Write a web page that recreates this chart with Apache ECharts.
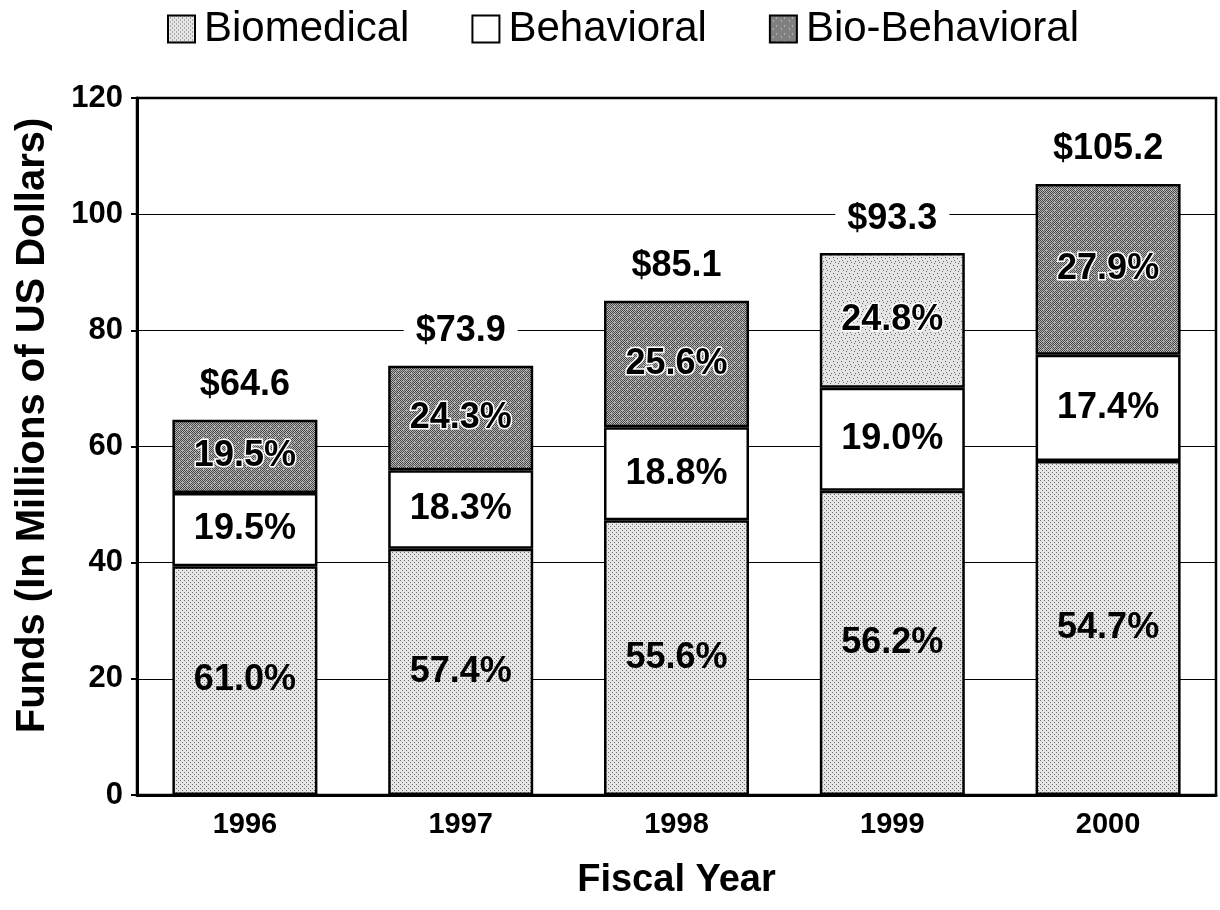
<!DOCTYPE html>
<html>
<head>
<meta charset="utf-8">
<script src="https://cdn.jsdelivr.net/npm/echarts@6/dist/echarts.min.js"></script>
<style>
  html, body { margin: 0; padding: 0; background: #fff; }
  #chart { width: 1220px; height: 910px; }
</style>
</head>
<body>
<div id="chart"></div>
<script>
// data (millions of US dollars)
var years = ['1996', '1997', '1998', '1999', '2000'];
var biomedical = [39.4, 42.4, 47.3, 52.4, 57.5];
var behavioral = [12.6, 13.5, 16.0, 17.7, 18.3];
var bioBehavioral = [12.6, 18.0, 21.8, 23.2, 29.4];
var totals = [64.6, 73.9, 85.1, 93.3, 105.2];
var pctBiomedical = ['61.0%', '57.4%', '55.6%', '56.2%', '54.7%'];
var pctBehavioral = ['19.5%', '18.3%', '18.8%', '19.0%', '17.4%'];
var pctBioBehavioral = ['19.5%', '24.3%', '25.6%', '24.8%', '27.9%'];

var FONT = '"Liberation Sans", Arial, sans-serif';

// stipple textures made on little canvases
function makePattern(size, bg, fg, dots) {
    var c = document.createElement('canvas');
    c.width = size; c.height = size;
    var ctx = c.getContext('2d');
    ctx.fillStyle = bg;
    ctx.fillRect(0, 0, size, size);
    ctx.fillStyle = fg;
    for (var i = 0; i < dots.length; i++) {
        ctx.fillRect(dots[i][0], dots[i][1], 1, 1);
    }
    return c;
}
var dotsLight = [[0, 0], [2, 2]];
var dotsDark = [];
for (var y = 0; y < 8; y++) {
    for (var x = 0; x < 8; x++) {
        if ((x + y) % 2 === 0 && !((x === 3 && y === 5) || (x === 6 && y === 2))) dotsDark.push([x, y]);
    }
}
var dotsSpeck = [[1, 1], [5, 2], [3, 6], [7, 5], [6, 7], [2, 4]];
var bioPattern = makePattern(4, '#e6e6e6', '#6e6e6e', dotsLight);
var bioBehPattern = makePattern(8, '#b4b4b4', '#4a4a4a', dotsDark);
var bioBehLight = makePattern(8, '#e4e4e4', '#6a6a6a', dotsSpeck);

var borderStyle = {borderColor: '#000', borderWidth: 2.5};

var bioBehData = bioBehavioral.map(function (v, i) {
    // 1999 block is a much lighter speckle in the scan
    if (i === 3) return {value: v, itemStyle: {color: {image: bioBehLight, repeat: 'repeat'}}};
    return v;
});

function pctLabel(arr, halo) {
    return {
        show: true,
        position: 'inside',
        fontFamily: FONT,
        fontSize: 36,
        fontWeight: 'bold',
        color: '#000',
        textBorderColor: halo ? '#fff' : 'transparent',
        textBorderWidth: halo ? 3 : 0,
        formatter: function (p) { return arr[p.dataIndex]; }
    };
}

var myChart = echarts.init(document.getElementById('chart'));

var option = {
    backgroundColor: '#fff',
    animation: false,
    legend: {
        data: ['Biomedical', 'Behavioral', 'Bio-Behavioral'],
        left: 162,
        top: 3,
        itemWidth: 27,
        itemHeight: 27,
        itemGap: 62,
        icon: 'rect',
        itemStyle: {borderColor: '#000', borderWidth: 2},
        textStyle: {fontFamily: FONT, fontSize: 42, color: '#000', padding: [0, 0, 0, 4]}
    },
    grid: {
        left: 137,
        right: 4,
        top: 98,
        bottom: 115,
        show: true,
        borderColor: '#000',
        borderWidth: 2.5,
        containLabel: false,
        outerBoundsMode: 'none'
    },
    xAxis: {
        type: 'category',
        data: years,
        name: 'Fiscal Year',
        nameLocation: 'middle',
        nameGap: 67,
        nameTextStyle: {fontFamily: FONT, fontSize: 38, fontWeight: 'bold', color: '#000'},
        axisLine: {lineStyle: {color: '#000', width: 3}},
        axisTick: {length: 8, lineStyle: {color: '#000', width: 2}},
        axisLabel: {fontFamily: FONT, fontSize: 29, fontWeight: 'bold', color: '#000', margin: 15}
    },
    yAxis: {
        type: 'value',
        min: 0,
        max: 120,
        interval: 20,
        name: 'Funds (In Millions of US Dollars)',
        nameLocation: 'middle',
        nameRotate: 90,
        nameGap: 84,
        nameTextStyle: {fontFamily: FONT, fontSize: 40, fontWeight: 'bold', color: '#000', padding: [0, 0, 0, 42]},
        axisLine: {show: true, lineStyle: {color: '#000', width: 3}},
        axisTick: {show: true, length: 6, lineStyle: {color: '#000', width: 2}},
        axisLabel: {fontFamily: FONT, fontSize: 31, fontWeight: 'bold', color: '#000', margin: 14},
        splitLine: {show: true, lineStyle: {color: '#000', width: 1.2}}
    },
    series: [
        {
            name: 'Biomedical',
            type: 'bar',
            stack: 'funds',
            barWidth: 145,
            data: biomedical,
            itemStyle: Object.assign({color: {image: bioPattern, repeat: 'repeat'}}, borderStyle),
            label: pctLabel(pctBiomedical, false)
        },
        {
            name: 'Behavioral',
            type: 'bar',
            stack: 'funds',
            barWidth: 145,
            data: behavioral,
            itemStyle: Object.assign({color: '#fff'}, borderStyle),
            label: pctLabel(pctBehavioral, false)
        },
        {
            name: 'Bio-Behavioral',
            type: 'bar',
            stack: 'funds',
            barWidth: 145,
            data: bioBehData,
            itemStyle: Object.assign({color: {image: bioBehPattern, repeat: 'repeat'}}, borderStyle),
            label: pctLabel(pctBioBehavioral, true)
        },
        {
            // totals above each bar
            name: 'Total',
            type: 'scatter',
            data: totals,
            symbolSize: 1,
            itemStyle: {color: 'rgba(0,0,0,0)', opacity: 1},
            z: 5,
            label: {
                show: true,
                position: 'top',
                distance: 16,
                fontFamily: FONT,
                fontSize: 36,
                fontWeight: 'bold',
                color: '#000',
                backgroundColor: '#fff',
                padding: [0, 12],
                formatter: function (p) { return '$' + totals[p.dataIndex].toFixed(1); }
            }
        }
    ]
};

myChart.setOption(option);
</script>
</body>
</html>
